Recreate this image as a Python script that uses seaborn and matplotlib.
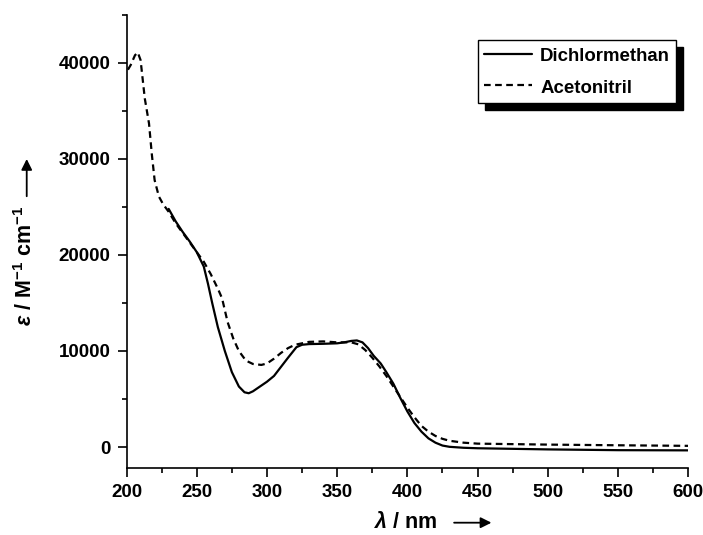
import numpy as np
import pandas as pd
import matplotlib
matplotlib.use("Agg")
import matplotlib.pyplot as plt
import seaborn as sns

# UV/Vis spectra
wl_acn = [201, 203, 206, 208, 210, 213, 216, 218, 220, 223, 226, 230, 235, 240,
          245, 250, 255, 260, 265, 268, 272, 276, 280, 285, 290, 296, 300, 305,
          310, 315, 320, 330, 340, 350, 360, 365, 370, 375, 380, 385, 390, 395,
          400, 405, 410, 415, 420, 425, 430, 440, 450, 500, 550, 600]
eps_acn = [39300, 39800, 40800, 41100, 40300, 36300, 33700, 30500, 27800, 26100,
           25300, 24500, 23300, 22300, 21300, 20300, 19300, 18000, 16500, 15500,
           13000, 11300, 10000, 9000, 8650, 8550, 8700, 9200, 9800, 10300, 10650,
           10950, 11000, 10900, 10900, 10700, 10100, 9300, 8400, 7400, 6300, 5200,
           4100, 3100, 2200, 1600, 1150, 850, 650, 450, 350, 250, 180, 120]

wl_dcm = [230, 235, 240, 245, 250, 255, 258, 261, 265, 270, 275, 280, 284, 287,
          290, 295, 300, 305, 310, 315, 321, 325, 330, 340, 350, 355, 360, 364,
          368, 372, 376, 381, 385, 390, 395, 400, 405, 410, 415, 420, 425, 430,
          440, 450, 500, 550, 600]
eps_dcm = [24800, 23500, 22400, 21400, 20300, 18800, 17000, 15000, 12500, 10000,
           7800, 6300, 5700, 5600, 5800, 6300, 6800, 7400, 8350, 9300, 10400,
           10650, 10720, 10750, 10800, 10900, 11050, 11100, 10900, 10300, 9500,
           8700, 7800, 6600, 5100, 3700, 2500, 1600, 900, 450, 150, 20, -80, -130,
           -250, -330, -350]

series = ["Dichlormethan", "Acetonitril"]

df = pd.concat([
    pd.DataFrame({"wl": wl_dcm, "eps": eps_dcm, "solvent": series[0]}),
    pd.DataFrame({"wl": wl_acn, "eps": eps_acn, "solvent": series[1]}),
], ignore_index=True)

sns.set_style("ticks")
plt.rcParams['font.family'] = ['Liberation Sans', 'DejaVu Sans']
plt.rcParams['font.weight'] = 'bold'
plt.rcParams['text.color'] = 'black'
plt.rcParams['xtick.color'] = 'black'
plt.rcParams['ytick.color'] = 'black'
plt.rcParams['mathtext.fontset'] = 'custom'
plt.rcParams['mathtext.rm'] = 'Liberation Sans:bold'
plt.rcParams['mathtext.it'] = 'Liberation Sans:italic:bold'
plt.rcParams['mathtext.bf'] = 'Liberation Sans:bold'

fig = plt.figure(figsize=(7.03, 5.35), dpi=100)
ax = fig.add_axes([0.180, 0.125, 0.799, 0.847])

sns.lineplot(data=df, x="wl", y="eps", style="solvent", style_order=series,
             dashes={series[0]: "", series[1]: (3, 2)}, color="black",
             linewidth=1.6, sort=False, estimator=None, ax=ax)

ax.set_xlim(200, 600)
ax.set_ylim(-2200, 45000)
ax.set_xticks(np.arange(200, 601, 50))
ax.set_xticks(np.arange(225, 600, 50), minor=True)
ax.set_yticks(np.arange(0, 40001, 10000))
ax.set_yticks(np.arange(5000, 45001, 10000), minor=True)
ax.tick_params(which="major", direction="out", length=6.5, width=1.2,
               labelsize=13.5, colors="black")
ax.tick_params(which="minor", direction="out", length=3.5, width=1.2,
               colors="black")
ax.tick_params(axis="x", pad=5)
ax.tick_params(axis="y", pad=5)
for lab in ax.get_xticklabels() + ax.get_yticklabels():
    lab.set_fontweight("bold")

sns.despine(ax=ax)
for side in ["left", "bottom"]:
    ax.spines[side].set_linewidth(1.2)
    ax.spines[side].set_color("black")

ax.set_xlabel("")
ax.set_ylabel("")

# axis titles with arrows
fig.text(0.578, 0.004, r"$\mathit{\lambda}$ / nm", ha="center", va="bottom",
         fontsize=15.5, fontweight="bold")
ax.annotate("", xy=(0.703, 0.023), xytext=(0.642, 0.023),
            xycoords="figure fraction", annotation_clip=False,
            arrowprops=dict(arrowstyle="-|>", color="black", lw=1.3,
                            mutation_scale=16))
fig.text(0.036, 0.503, r"$\mathit{\varepsilon}$ / M$^{-1}$ cm$^{-1}$",
         rotation=90, ha="center", va="center", fontsize=15.5, fontweight="bold")
ax.annotate("", xy=(0.038, 0.708), xytext=(0.038, 0.628),
            xycoords="figure fraction", annotation_clip=False,
            arrowprops=dict(arrowstyle="-|>", color="black", lw=1.3,
                            mutation_scale=16))

leg = ax.legend(loc="upper right", bbox_to_anchor=(0.979, 0.945),
                borderaxespad=0, fontsize=13.4, handlelength=2.55,
                handletextpad=0.45, borderpad=0.35, labelspacing=0.7,
                handleheight=1.0,
                frameon=True, fancybox=False, edgecolor="black",
                framealpha=1,
                shadow={"ox": 5, "oy": -5, "color": "black", "alpha": 1})
for t in leg.get_texts():
    t.set_fontweight("bold")
leg.get_frame().set_linewidth(1.0)

fig.savefig("out.png", dpi=100)
